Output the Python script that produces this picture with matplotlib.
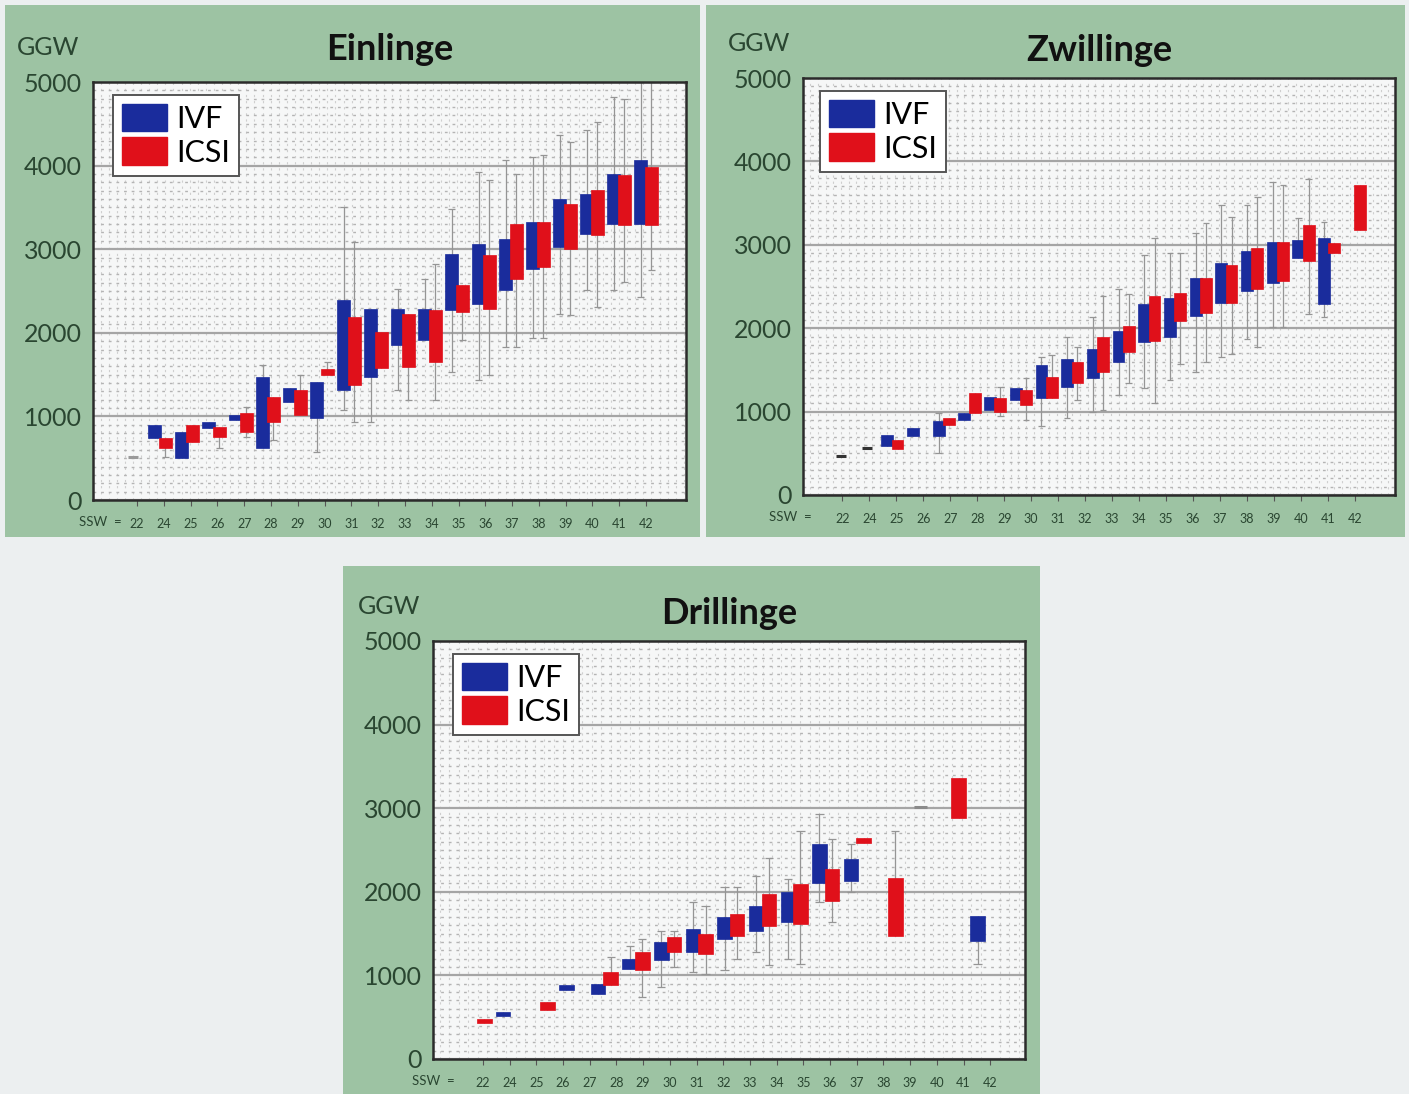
import matplotlib.pyplot as plt
import numpy as np
from matplotlib.patches import Patch, Rectangle
from matplotlib.ticker import MultipleLocator

plt.rcParams['font.family'] = ['Lato', 'DejaVu Sans']

nan = np.nan

# SSW-Beschriftung der x-Achse (wie im Original, nicht exakt auf die Boxen ausgerichtet)
ssw_labels = ['22', '24', '25', '26', '27', '28', '29', '30', '31', '32', '33',
              '34', '35', '36', '37', '38', '39', '40', '41', '42']

# ---- Einlinge (20 Positionen) ----
ein_ivf_q1 = [nan, 737, 498, 856, 956, 617, 1175, 976, 1314, 1473, 1852, 1912, 2270, 2350, 2509, 2768, 3027, 3186, 3305, 3305]
ein_ivf_q3 = [nan, 896, 816, 936, 1016, 1473, 1334, 1414, 2389, 2290, 2290, 2290, 2947, 3066, 3126, 3325, 3604, 3664, 3903, 4062]
ein_ivf_lo = [nan, nan, nan, nan, nan, nan, nan, 577, 1075, 936, 1314, nan, 1533, 1434, 1832, 1932, 2230, 2509, 2509, 2429]
ein_ivf_hi = [nan, nan, nan, nan, nan, 1613, nan, nan, 3504, nan, 2529, 2648, 3485, 3923, 4062, 4102, 4361, 4421, 4819, 5000]
ein_icsi_q1 = [nan, 617, 697, 757, 816, 936, 1016, 1500, 1374, 1573, 1593, 1653, 2250, 2290, 2648, 2788, 3007, 3166, 3285, 3285]
ein_icsi_q3 = [nan, 737, 896, 876, 1035, 1235, 1314, 1570, 2190, 2011, 2230, 2270, 2569, 2927, 3305, 3325, 3544, 3704, 3883, 3982]
ein_icsi_lo = [nan, 518, nan, 617, 757, 717, nan, nan, 936, nan, 1195, 1195, 1912, 1493, 1832, 1932, 2210, 2310, 2608, 2748]
ein_icsi_hi = [nan, nan, nan, nan, 1115, nan, 1493, 1653, 3086, nan, nan, 2828, nan, 3823, 3903, 4122, 4281, 4520, 4799, 4998]
ein_single_pos = [0]
ein_single_val = [514]

# ---- Zwillinge (21 Positionen) ----
zw_ivf_q1 = [nan, nan, 586, 704, 704, 902, 1021, 1140, 1160, 1298, 1397, 1595, 1832, 1892, 2149, 2307, 2446, 2545, 2841, 2287, nan]
zw_ivf_q3 = [nan, nan, 724, 803, 882, 981, 1179, 1278, 1555, 1634, 1753, 1971, 2287, 2366, 2604, 2782, 2921, 3039, 3059, 3079, nan]
zw_ivf_lo = [nan, nan, nan, nan, 507, nan, nan, nan, 823, 922, 1001, 1199, 1278, 1377, 1476, 1654, 1872, 2010, nan, 2129, nan]
zw_ivf_hi = [nan, nan, nan, nan, 981, nan, nan, nan, 1654, 1892, 2129, 2465, 2881, 2901, 3138, 3475, 3475, 3752, 3316, 3277, nan]
zw_icsi_q1 = [nan, nan, 546, nan, 843, 981, 1001, 1080, 1160, 1338, 1476, 1714, 1852, 2089, 2188, 2307, 2465, 2564, 2802, 2901, 3178]
zw_icsi_q3 = [nan, nan, 665, nan, 922, 1219, 1160, 1258, 1417, 1595, 1892, 2030, 2386, 2426, 2604, 2762, 2960, 3039, 3237, 3019, 3712]
zw_icsi_lo = [nan, nan, nan, nan, nan, nan, 942, 902, nan, 1140, 1021, 1338, 1100, 1575, 1595, 1694, 1773, 2010, 2169, nan, nan]
zw_icsi_hi = [nan, nan, nan, nan, nan, nan, 1298, 1397, 1674, 1773, 2386, 2406, 3079, 2901, 3257, 3336, 3573, 3712, 3791, nan, nan]
zw_single_pos = [0, 1]
zw_single_val = [467, 566]

# ---- Drillinge (17 Positionen) ----
dr_ivf_q1 = [nan, 516, nan, 821, 782, 1079, 1179, 1278, 1437, 1536, 1635, 2111, 2131, nan, nan, nan, 1417]
dr_ivf_q3 = [nan, 563, nan, 881, 901, 1198, 1397, 1556, 1694, 1833, 1992, 2567, 2389, nan, nan, nan, 1714]
dr_ivf_lo = [nan, nan, nan, nan, nan, nan, 861, 1040, 1060, 1278, 1198, 1873, 1992, nan, nan, nan, 1139]
dr_ivf_hi = [nan, nan, nan, nan, nan, 1357, 1536, 1873, 2052, 2190, 2151, 2925, 2567, nan, nan, nan, nan]
dr_icsi_q1 = [425, nan, 583, nan, 889, 1060, 1278, 1258, 1476, 1595, 1615, 1893, 2587, 1476, nan, 2885, nan]
dr_icsi_q3 = [484, nan, 683, nan, 1040, 1278, 1456, 1496, 1734, 1972, 2091, 2270, 2647, 2171, nan, 3361, nan]
dr_icsi_lo = [nan, nan, nan, nan, nan, 742, 1099, 1020, 1198, 1119, 1139, 1635, nan, nan, nan, nan, nan]
dr_icsi_hi = [nan, nan, nan, nan, 1218, 1437, 1536, 1833, 2052, 2409, 2726, 2627, nan, 2726, nan, nan, nan]
dr_single_pos = [14]
dr_single_val = [3020]

BLUE = '#1a2c9c'
RED = '#e0101a'
GREEN = '#9dc3a3'
TXT = '#2a4631'

fig = plt.figure(figsize=(14.09, 10.94), dpi=100)
fig.patch.set_facecolor('#eceff0')

# gruene Hintergrundflaechen
for (x0, y0, w, h) in [(5, 5, 695, 532), (706, 5, 699, 532), (343, 566, 697, 528)]:
    fig.patches.append(Rectangle((x0 / 1409, 1 - (y0 + h) / 1094), w / 1409, h / 1094,
                                 transform=fig.transFigure, facecolor=GREEN,
                                 edgecolor='none', zorder=-5))


def draw_panel(rect, title, ivf, icsi, singles, single_col, xlim, tick_pos, ssw_x,
               legend_x, title_pad):
    ax = fig.add_axes(rect)
    ax.set_facecolor('#f6f7f7')
    n = len(ivf[0])
    x = np.arange(n)
    w = 0.46
    off = 0.2
    for q1, q3, lo, hi, dx, col in [(*ivf, -off, BLUE), (*icsi, off, RED)]:
        q1 = np.array(q1, float)
        q3 = np.array(q3, float)
        lo = np.array(lo, float)
        hi = np.array(hi, float)
        xs = x + dx
        # Whisker
        lo_end = np.where(np.isnan(lo), q1, lo)
        hi_end = np.where(np.isnan(hi), q3, hi)
        ax.vlines(xs, lo_end, hi_end, color='#959595', lw=0.9, zorder=2)
        ax.hlines(lo, xs - 0.13, xs + 0.13, color='#959595', lw=0.9, zorder=2)
        ax.hlines(hi, xs - 0.13, xs + 0.13, color='#959595', lw=0.9, zorder=2)
        ax.bar(xs, q3 - q1, bottom=q1, width=w, color=col, edgecolor=col,
               lw=0.5, zorder=3 if col == BLUE else 4)
    ax.hlines(singles[1], np.array(singles[0]) - 0.2, np.array(singles[0]) + 0.2,
              color=single_col, lw=2.2, zorder=3)

    ax.set_xlim(*xlim)
    ax.set_ylim(0, 5000)
    ax.set_yticks([0, 1000, 2000, 3000, 4000, 5000])
    ax.yaxis.set_minor_locator(MultipleLocator(100))
    ax.xaxis.set_minor_locator(MultipleLocator(0.3))
    ax.grid(which='major', axis='y', color='#a5a5a5', lw=1.6, zorder=1)
    ax.grid(which='minor', axis='y', color='#b4b4b4', lw=1.0, ls=(0, (2, 3.5)), zorder=1)
    ax.grid(which='minor', axis='x', color='#cfcfcf', lw=0.8, ls=(0, (2, 3.5)), zorder=1)
    ax.set_axisbelow(True)
    ax.tick_params(axis='y', which='major', length=0, pad=8, labelsize=18, labelcolor=TXT)
    ax.tick_params(which='minor', length=0)
    ax.set_xticks(tick_pos)
    ax.set_xticklabels(ssw_labels)
    ax.tick_params(axis='x', which='major', length=4, pad=9, labelsize=9,
                   labelcolor=TXT, color='#555555')
    for s in ax.spines.values():
        s.set_color('#2b2b2b')
        s.set_linewidth(1.8)

    ax.text(ssw_x, -0.053, 'SSW  =', transform=ax.transAxes, ha='right', va='center',
            fontsize=9.5, color=TXT)
    ax.text(-0.075, 1.083, 'GGW', transform=ax.transAxes, ha='center', va='center',
            fontsize=18, color=TXT)
    ax.set_title(title, fontsize=26, fontweight='bold', color='#111111', pad=title_pad)

    handles = [Patch(facecolor=BLUE, edgecolor=BLUE, label='IVF'),
               Patch(facecolor=RED, edgecolor=RED, label='ICSI')]
    leg = ax.legend(handles=handles, loc='upper left', bbox_to_anchor=(legend_x, 0.97),
                    borderaxespad=0, fontsize=22, handlelength=1.45, handleheight=1.0,
                    handletextpad=0.3, labelspacing=0.15, borderpad=0.3,
                    fancybox=False, framealpha=1, edgecolor='#555555')
    leg.get_frame().set_linewidth(1.4)
    return ax


draw_panel([93 / 1409, 1 - 500 / 1094, 593 / 1409, 418 / 1094], 'Einlinge',
           (ein_ivf_q1, ein_ivf_q3, ein_ivf_lo, ein_ivf_hi),
           (ein_icsi_q1, ein_icsi_q3, ein_icsi_lo, ein_icsi_hi),
           (ein_single_pos, ein_single_val), '#9a9a9a',
           (-1.48, 20.48), np.linspace(0.15, 19.0, 20), 0.049, 0.034, 16)

draw_panel([803 / 1409, 1 - 495 / 1094, 592 / 1409, 417 / 1094], 'Zwillinge',
           (zw_ivf_q1, zw_ivf_q3, zw_ivf_lo, zw_ivf_hi),
           (zw_icsi_q1, zw_icsi_q3, zw_icsi_lo, zw_icsi_hi),
           (zw_single_pos, zw_single_val), '#333333',
           (-1.48, 21.56), np.linspace(0.05, 20.0, 20), 0.015, 0.029, 12)

draw_panel([433 / 1409, 1 - 1059 / 1094, 592 / 1409, 418 / 1094], 'Drillinge',
           (dr_ivf_q1, dr_ivf_q3, dr_ivf_lo, dr_ivf_hi),
           (dr_icsi_q1, dr_icsi_q3, dr_icsi_lo, dr_icsi_hi),
           (dr_single_pos, dr_single_val), '#8a8a8a',
           (-1.42, 17.3), np.linspace(0.16, 16.2, 20), 0.037, 0.034, 12)

fig.savefig('out.png', dpi=100, facecolor=fig.get_facecolor())
